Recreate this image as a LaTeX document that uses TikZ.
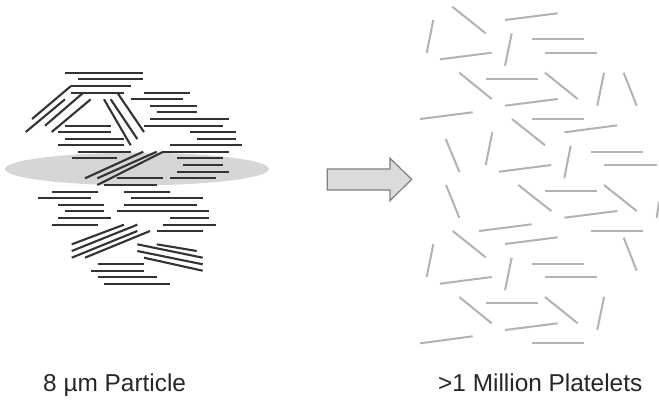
\documentclass[tikz,border=0pt]{standalone}
\usepackage{fontspec}
\setmainfont{Liberation Sans}
\tikzset{
  x=1bp,y=-1bp,
  stack/.style={line width=2.1bp,draw=black!80},
  platelet/.style={line width=2bp,draw=black!30},
  caption/.style={anchor=base west,inner sep=0pt,font=\fontsize{24.4bp}{28bp}\selectfont,text=black!85},
}
\begin{document}
\begin{tikzpicture}
\useasboundingbox (0,0) rectangle (659,399);
% grey cross-section disc behind the particle
\fill[black!16] (137,169) ellipse [x radius=132,y radius=16.3];
% horizontal sheets of the stacked particle: x1/x2/y
\foreach \a/\b/\y in {
  65/143.3/73, 78.3/143.3/79.3, 71/130.7/86, 71/124/92.7, 144/190/92.7,
  130.7/183.3/99.3, 150/196.7/106, 156.7/196.7/112.3, 150/229.3/119,
  144/222.7/125.7, 190/235.7/132, 196.7/235.7/139, 170/242.3/145.3,
  163.3/229.3/151.7, 176.7/222.7/158.3, 183.3/222.7/165, 176.7/229.3/171.7,
  170/216/178.3, 65/110.7/125.7, 58.3/110.7/132, 65/124/139, 58.3/124/145.3,
  78.3/130.7/151.7, 71.7/117.3/158.3, 117.3/163.3/178.3, 104/156.7/185,
  51.7/97.7/191.7, 124/170/191.7, 38.3/91/198.3, 130.7/202.7/198.3,
  58.3/104/204.7, 124/196.7/204.7, 65/104/211.3, 117.3/209.3/211.3,
  58.3/110.7/218, 170/209.3/218, 51.7/97.7/224.7, 163.3/216/224.7,
  156.7/202.7/231, 97.7/144/264, 91/144/270.7, 97.7/156.7/277.3, 104/170/284}
  \draw[stack] (\a,\y) -- (\b,\y);
% tilted sheets of the stacked particle
\foreach \a/\b/\c/\d in {
  71/86/32/119, 65/99.3/25.7/132, 83.3/92.7/45/125.7, 90.7/99.3/51.7/132,
  104/99.3/130.7/145.3, 110.7/99.3/137.3/139, 117.3/92.7/144/132,
  143.3/151.7/85/178.3, 156.7/151.7/97.3/178.3, 163.3/151.7/97.3/185,
  124/224.7/71.7/244.3, 137.3/224.7/71.7/251, 137.3/231/71.7/257.7,
  150/231/85/257.7, 137.3/244.3/202.7/257.7, 156.7/244.3/196.7/251,
  137.3/251/202.7/264.3, 144/257.7/202.7/270.7}
  \draw[stack] (\a,\b) -- (\c,\d);
% block arrow between the two states
\draw[draw=black!50,fill=black!14,line width=1.2bp,line join=miter]
  (327.3,169) -- (390,169) -- (390,158.3) -- (411.7,179.3)
  -- (390,200.7) -- (390,190) -- (327.3,190) -- cycle;
% separated platelets
\foreach \a/\b/\c/\d in {
  452.3/6.7/485.7/33.3, 505/20/557.7/13.3, 433.3/20/426.7/52.7,
  511.7/33.3/505/65.7, 531.7/39.3/584/39.3, 545/52.7/597.3/52.7,
  440/59.3/491.7/52.7, 459.3/72.7/491.7/99, 485.7/79.3/538.3/79.3,
  545/72.7/577.7/99, 604/72.7/597.3/105.7, 623.7/72.7/636.7/105.7,
  505/105.7/557.7/99, 420/119/472.7/112.3, 531.7/118.7/584/118.7,
  512/119/545/145.3, 564.3/132.3/617.3/125.3, 445.7/139/459.3/171.7,
  492.3/132.3/485.7/165, 570.7/145.7/564.3/178.3, 591/152/643.3/152,
  604/165/656.7/165, 499/171.7/551.3/165,
  446/185/459.3/217.7, 518.3/185/551.3/211, 545/191.3/597.3/191.3,
  604/185/636.7/211, 564.3/217.7/617.3/211, 659/201.7/656.7/217.7,
  479/231/531.7/224.3, 452.7/231/485.7/257.3, 590.7/231/643.3/231,
  623.7/237.7/636.7/270.7, 505/244/557.7/237.3, 433.3/244.3/426.7/277,
  511.7/257.7/505/290.3, 531.7/264/584/264, 545/277/597.3/277,
  440/283.7/491.7/277, 459.3/297/491.7/323.3, 485.7/303.3/538.3/303.3,
  545/297/577.7/323.3, 604/297/597.3/330, 505/330/557.7/323.3,
  420/343.3/472.7/336.3, 531.7/343.3/584/343.3}
  \draw[platelet] (\a,\b) -- (\c,\d);
% captions
\node[caption] (particle) at (43,391.5) {8 µm Particle};
\node[caption] (platelets) at (438,391.5) {>1 Million Platelets};
\end{tikzpicture}
\end{document}
